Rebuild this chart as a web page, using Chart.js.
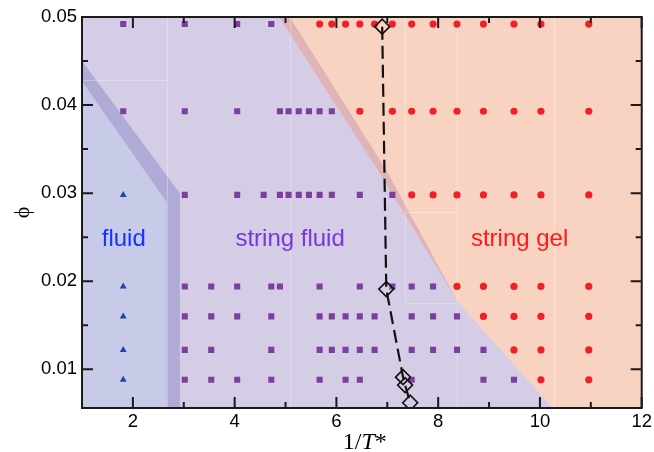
<!DOCTYPE html>
<html>
<head>
<meta charset="utf-8">
<script src="https://cdn.jsdelivr.net/npm/chart.js@4.4.1/dist/chart.umd.min.js"></script>
<style>
  html, body { margin: 0; padding: 0; background: #ffffff; }
  #wrap { width: 654px; height: 452px; }
</style>
</head>
<body>
<div id="wrap"><canvas id="c" width="654" height="452"></canvas></div>
<script>
// Simulated state points: packing fraction rows and inverse temperatures per phase
const phiRows = [0.0492, 0.0393, 0.0298, 0.0194, 0.0160, 0.0122, 0.0088];

const fluidInvT = [[], [], [1.81], [1.81], [1.81], [1.81], [1.81]];

const stringFluidInvT = [
  [1.81, 3.02, 4.05, 4.72],
  [1.81, 3.02, 4.05, 4.89, 5.06, 5.26, 5.46, 5.67, 5.91],
  [3.02, 4.05, 4.57, 4.89, 5.06, 5.26, 5.46, 5.67, 5.91, 6.46, 7.10],
  [3.02, 3.54, 4.05, 4.72, 4.89, 5.67, 6.46, 7.10, 7.48, 7.90],
  [3.02, 3.54, 4.05, 4.72, 5.67, 5.91, 6.18, 6.46, 6.75, 7.48, 7.90, 8.37],
  [3.02, 3.54, 4.72, 5.67, 5.91, 6.18, 6.46, 6.75, 7.48, 7.90, 8.37, 8.89],
  [3.02, 3.54, 4.05, 4.72, 5.67, 6.18, 6.46, 7.48, 8.89, 9.49]
];

const stringGelInvT = [
  [5.67, 5.91, 6.18, 6.46, 6.75, 7.10, 7.48, 7.90, 8.37, 8.89, 9.49, 10.02, 10.96],
  [6.46, 7.10, 7.48, 7.90, 8.37, 8.89, 9.49, 10.02, 10.96],
  [7.48, 7.90, 8.37, 8.89, 9.49, 10.02, 10.96],
  [8.37, 8.89, 9.49, 10.02, 10.96],
  [8.89, 9.49, 10.02, 10.96],
  [9.49, 10.02, 10.96],
  [10.02, 10.96]
];

// Percolation / gelation line
const transitionInvT = [6.90, 6.98, 7.31, 7.35, 7.45];
const transitionPhi = [0.0489, 0.0191, 0.0091, 0.0082, 0.0062];

// Phase regions as (1/T*, phi) vertices
const fluidRegion = [[1, 0.0056], [1, 0.0427], [2.662, 0.0290], [2.662, 0.0056]];
const crossoverBand = [[1, 0.0427], [1, 0.0450], [2.923, 0.0300], [2.923, 0.0056], [2.662, 0.0056], [2.662, 0.0290]];
const gelRegion = [[5.082, 0.05], [6.980, 0.0326], [8.386, 0.01765], [10.25, 0.0056], [12, 0.0056], [12, 0.05]];
const gelEdgeBand = [[4.872, 0.05], [6.815, 0.0326], [8.386, 0.01765], [6.980, 0.0326], [5.082, 0.05]];

// Faint edges between the shaded tiles
const tileEdges = [
  [[2.662, 0.0056], [2.662, 0.05]],
  [[1, 0.0428], [2.662, 0.0428]],
  [[5.08, 0.0056], [5.08, 0.05]],
  [[7.35, 0.01747], [7.35, 0.05]],
  [[7.35, 0.02787], [8.37, 0.02787]],
  [[7.35, 0.01747], [8.37, 0.01747]],
  [[8.37, 0.0056], [8.37, 0.05]],
  [[10.28, 0.0056], [10.28, 0.05]]
];

// Region names and where they are written
const phaseNames = ['fluid', 'string fluid', 'string gel'];
const phaseNameInvT = [1.82, 5.09, 9.60];
const phaseNamePhi = [0.0240, 0.0240, 0.0240];
const phaseNameColors = ['#1433ff', '#7a36d8', '#ff1a1a'];

// Axis ticks
const xMajorTicks = [2, 4, 6, 8, 10, 12];
const xMinorTicks = [3, 5, 7, 9, 11];
const yMajorTicks = [0.01, 0.02, 0.03, 0.04, 0.05];
const yMinorTicks = [0.015, 0.025, 0.035, 0.045];

function rowsToPoints(rows) {
  const pts = [];
  rows.forEach((xs, i) => xs.forEach(v => pts.push({ x: v, y: phiRows[i] })));
  return pts;
}

const transitionPoints = transitionInvT.map((v, i) => ({ x: v, y: transitionPhi[i] }));

const phaseMap = {
  id: 'phaseMap',
  beforeDatasetsDraw(chart) {
    const { ctx, chartArea: a, scales: { x, y } } = chart;
    const poly = (pts, color) => {
      ctx.beginPath();
      pts.forEach(([px, py], i) => {
        const X = x.getPixelForValue(px), Y = y.getPixelForValue(py);
        if (i === 0) ctx.moveTo(X, Y); else ctx.lineTo(X, Y);
      });
      ctx.closePath();
      ctx.fillStyle = color;
      ctx.fill();
    };
    ctx.save();
    ctx.beginPath();
    ctx.rect(a.left, a.top, a.width, a.height);
    ctx.clip();
    ctx.fillStyle = '#d4cde5';
    ctx.fillRect(a.left, a.top, a.width, a.height);
    poly(fluidRegion, '#c8cbe7');
    poly(crossoverBand, '#b0aad6');
    poly(gelRegion, '#f9d3c1');
    poly(gelEdgeBand, '#e0b3b6');

    ctx.strokeStyle = 'rgba(255,255,255,0.3)';
    ctx.lineWidth = 1;
    ctx.beginPath();
    tileEdges.forEach(([p, q]) => {
      ctx.moveTo(Math.round(x.getPixelForValue(p[0])) + 0.5, Math.round(y.getPixelForValue(p[1])) + 0.5);
      ctx.lineTo(Math.round(x.getPixelForValue(q[0])) + 0.5, Math.round(y.getPixelForValue(q[1])) + 0.5);
    });
    ctx.stroke();

    ctx.font = '24px "Liberation Sans", Arial, sans-serif';
    ctx.textAlign = 'center';
    ctx.textBaseline = 'alphabetic';
    phaseNames.forEach((t, i) => {
      ctx.fillStyle = phaseNameColors[i];
      ctx.fillText(t, x.getPixelForValue(phaseNameInvT[i]), y.getPixelForValue(phaseNamePhi[i]));
    });
    ctx.restore();
  },
  afterDatasetsDraw(chart) {
    const { ctx, chartArea: a, scales: { x, y } } = chart;
    ctx.save();
    ctx.strokeStyle = '#1a1a1a';
    ctx.lineWidth = 2;
    ctx.lineCap = 'butt';
    const major = 11, minor = 6;
    ctx.beginPath();
    const vt = (v, len) => {
      const X = x.getPixelForValue(v);
      ctx.moveTo(X, a.bottom); ctx.lineTo(X, a.bottom - len);
      ctx.moveTo(X, a.top); ctx.lineTo(X, a.top + len);
    };
    const ht = (v, len) => {
      const Y = y.getPixelForValue(v);
      ctx.moveTo(a.left, Y); ctx.lineTo(a.left + len, Y);
      ctx.moveTo(a.right, Y); ctx.lineTo(a.right - len, Y);
    };
    xMajorTicks.forEach(v => vt(v, major));
    xMinorTicks.forEach(v => vt(v, minor));
    yMajorTicks.forEach(v => ht(v, major));
    yMinorTicks.forEach(v => ht(v, minor));
    ctx.stroke();
    ctx.strokeRect(a.left, a.top, a.width, a.height);

    // axis titles
    ctx.fillStyle = '#000';
    ctx.textBaseline = 'alphabetic';
    const serif = '"Liberation Serif", "Times New Roman", serif';
    const parts = [['1/', 'normal'], ['T', 'italic'], ['*', 'normal']];
    let total = 0;
    parts.forEach(p => { ctx.font = p[1] + ' 24px ' + serif; total += ctx.measureText(p[0]).width; });
    let cx = (a.left + a.right) / 2 + 3 - total / 2;
    ctx.textAlign = 'left';
    parts.forEach(p => {
      ctx.font = p[1] + ' 24px ' + serif;
      ctx.fillText(p[0], cx, 448.5);
      cx += ctx.measureText(p[0]).width;
    });

    ctx.translate(23, (a.top + a.bottom) / 2);
    ctx.rotate(-Math.PI / 2);
    ctx.textAlign = 'center';
    ctx.textBaseline = 'middle';
    ctx.font = '22px ' + serif;
    ctx.fillText('ϕ', 0, 0);
    ctx.restore();
  }
};

const tickFont = { family: '"Liberation Sans", Arial, sans-serif', size: 18.5 };

new Chart(document.getElementById('c'), {
  type: 'scatter',
  data: {
    datasets: [
      {
        label: 'transition',
        data: transitionPoints,
        showLine: true,
        borderColor: '#111',
        borderWidth: 2.2,
        borderDash: [13, 6],
        pointStyle: 'rectRot',
        pointRadius: 7.5,
        pointBorderWidth: 1.6,
        pointBorderColor: '#111',
        pointBackgroundColor: 'rgba(0,0,0,0)',
        order: 0
      },
      {
        label: 'string gel',
        data: rowsToPoints(stringGelInvT),
        pointStyle: 'circle',
        pointRadius: 3.6,
        pointBorderWidth: 0,
        pointBackgroundColor: '#f0202a',
        order: 1
      },
      {
        label: 'string fluid',
        data: rowsToPoints(stringFluidInvT),
        pointStyle: 'rect',
        pointRadius: 4.3,
        pointBorderWidth: 0,
        pointBackgroundColor: '#7d3f9f',
        order: 2
      },
      {
        label: 'fluid',
        data: rowsToPoints(fluidInvT),
        pointStyle: 'triangle',
        pointRadius: 4,
        pointBorderWidth: 0,
        pointBackgroundColor: '#2244aa',
        order: 3
      }
    ]
  },
  options: {
    responsive: false,
    animation: false,
    devicePixelRatio: 1,
    layout: { padding: 0 },
    plugins: { legend: { display: false }, tooltip: { enabled: false } },
    scales: {
      x: {
        type: 'linear',
        min: 1, max: 12,
        grid: { display: false, drawTicks: false },
        border: { display: false },
        ticks: { font: tickFont, color: '#000', padding: 3, maxRotation: 0, autoSkip: false, callback: v => String(v) },
        afterBuildTicks: s => { s.ticks = xMajorTicks.map(v => ({ value: v })); },
        afterFit: s => { s.height = 44; s.paddingLeft = 0; s.paddingRight = 12.3; }
      },
      y: {
        type: 'linear',
        min: 0.0056, max: 0.05,
        grid: { display: false, drawTicks: false },
        border: { display: false },
        ticks: { font: tickFont, color: '#000', padding: 5, autoSkip: false, callback: v => v.toFixed(2) },
        afterBuildTicks: s => { s.ticks = yMajorTicks.map(v => ({ value: v })); },
        afterFit: s => { s.width = 82; s.paddingTop = 17; s.paddingBottom = 0; }
      }
    }
  },
  plugins: [phaseMap]
});
</script>
</body>
</html>
